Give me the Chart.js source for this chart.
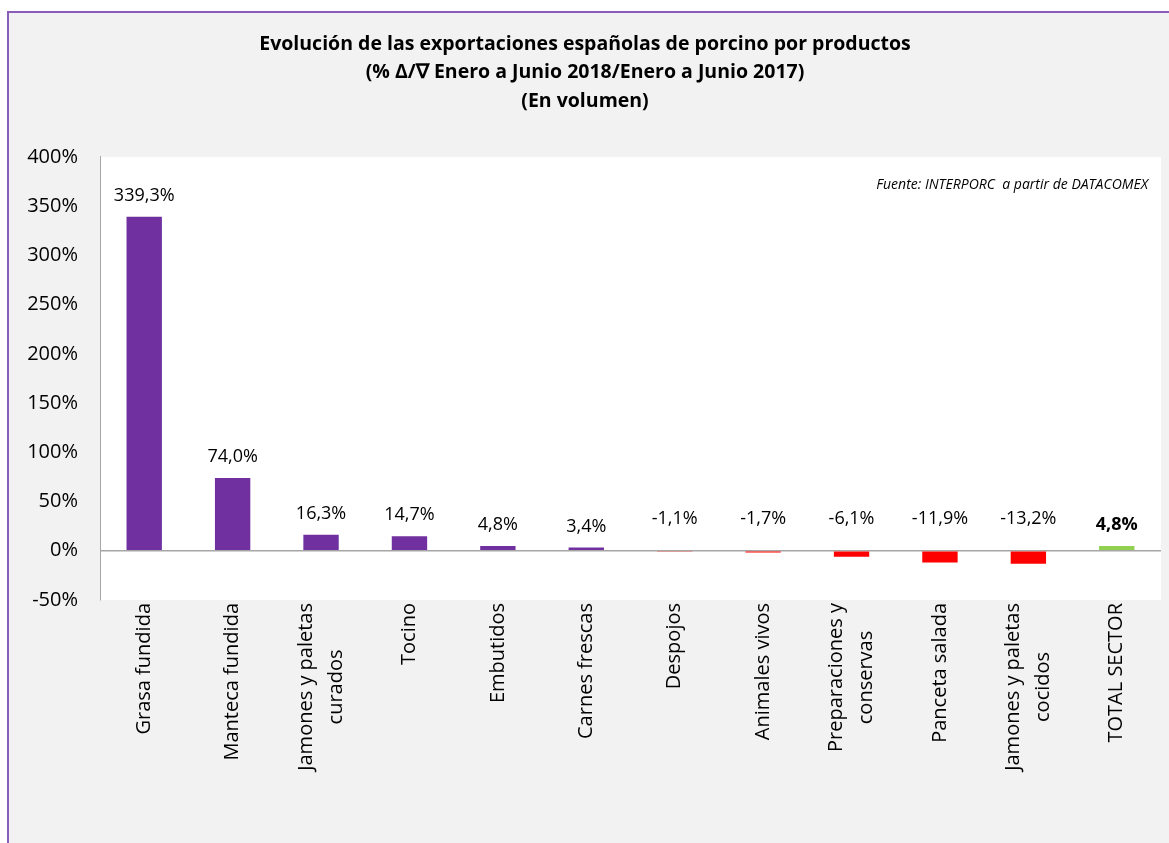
<!DOCTYPE html>
<html>
<head>
<meta charset="utf-8">
<script src="https://cdn.jsdelivr.net/npm/chart.js@4"></script>
<style>
    html, body { margin: 0; padding: 0; background: #ffffff; overflow: hidden; }
    #frame {
        position: absolute;
        left: 7px;
        top: 11px;
        width: 1170px;
        height: 830px;
        border: 2px solid #8B5DBB;
        background: #F2F2F2;
    }
    #chartBox { position: absolute; left: 0; top: 0; width: 1170px; height: 830px; }
</style>
</head>
<body>
<div id="frame">
    <div id="chartBox"><canvas id="exportChart"></canvas></div>
</div>
<script>
// categorías (las de dos líneas van como arrays)
const categories = [
    'Grasa fundida',
    'Manteca fundida',
    ['Jamones y paletas', 'curados'],
    'Tocino',
    'Embutidos',
    'Carnes frescas',
    'Despojos',
    'Animales vivos',
    ['Preparaciones y', 'conservas'],
    'Panceta salada',
    ['Jamones y paletas', 'cocidos'],
    'TOTAL SECTOR'
];

// % variación Enero-Junio 2018 / Enero-Junio 2017
const variation = [339.3, 74.0, 16.3, 14.7, 4.8, 3.4, -1.1, -1.7, -6.1, -11.9, -13.2, 4.8];

const yTicks = [-50, 0, 50, 100, 150, 200, 250, 300, 350, 400];

const titleLines = [
    'Evolución de las exportaciones españolas de porcino por productos',
    '(% \u0394/\u2207 Enero a Junio 2018/Enero a Junio 2017)',
    '(En volumen)'
];
const sourceNote = 'Fuente: INTERPORC  a partir de DATACOMEX';

const FONT = "'Open Sans', 'Noto Sans', sans-serif";

function barColor(i) {
    if (i === variation.length - 1) return '#92D050';
    return variation[i] < 0 ? '#FF0000' : '#7030A0';
}

function fmt(v) {
    return v.toFixed(1).replace('.', ',') + '%';
}

const plotBackground = {
    id: 'plotBackground',
    beforeDraw(chart) {
        const a = chart.chartArea;
        const ctx = chart.ctx;
        ctx.save();
        ctx.fillStyle = '#ffffff';
        ctx.fillRect(a.left, a.top, a.right - a.left, a.bottom - a.top);
        ctx.restore();
    }
};

// etiquetas de categoría giradas, líneas centradas entre sí
const rotatedLabels = {
    id: 'rotatedLabels',
    afterDraw(chart) {
        const ctx = chart.ctx;
        const xScale = chart.scales.x;
        const top = chart.chartArea.bottom + 3;
        const lh = 30;
        ctx.save();
        ctx.font = '20px ' + FONT;
        ctx.fillStyle = '#000000';
        ctx.textAlign = 'center';
        ctx.textBaseline = 'middle';
        categories.forEach((cat, i) => {
            const lines = Array.isArray(cat) ? cat : [cat];
            const w = Math.max(...lines.map(l => ctx.measureText(l).width));
            const x = xScale.getPixelForValue(i);
            ctx.save();
            ctx.translate(x, top);
            ctx.rotate(-Math.PI / 2);
            lines.forEach((line, k) => {
                ctx.fillText(line, -w / 2, (k - (lines.length - 1) / 2) * lh);
            });
            ctx.restore();
        });
        ctx.restore();
    }
};

const valueLabels = {
    id: 'valueLabels',
    afterDatasetsDraw(chart) {
        const ctx = chart.ctx;
        const meta = chart.getDatasetMeta(0);
        const zeroY = chart.scales.y.getPixelForValue(0);
        ctx.save();
        ctx.fillStyle = '#000000';
        ctx.textAlign = 'center';
        ctx.textBaseline = 'middle';
        meta.data.forEach((bar, i) => {
            const v = variation[i];
            const last = i === variation.length - 1;
            ctx.font = (last ? 'bold ' : '') + '18px ' + FONT;
            const y = v >= 0 ? bar.y - 21 : zeroY - 32;
            ctx.fillText(fmt(v), bar.x, y);
        });
        // nota de fuente
        const a = chart.chartArea;
        ctx.font = 'italic 14px ' + FONT;
        ctx.textAlign = 'right';
        ctx.fillText(sourceNote, a.right - 13, a.top + 28);
        ctx.restore();
    }
};

const ctx = document.getElementById('exportChart').getContext('2d');

new Chart(ctx, {
    type: 'bar',
    data: {
        labels: categories.map(c => Array.isArray(c) ? c.join(' ') : c),
        datasets: [{
            data: variation,
            backgroundColor: variation.map((v, i) => barColor(i)),
            borderWidth: 0,
            categoryPercentage: 1,
            barPercentage: 0.4
        }]
    },
    options: {
        responsive: true,
        maintainAspectRatio: false,
        animation: false,
        layout: {
            padding: { left: 0, right: 18, top: 0, bottom: 0 }
        },
        plugins: {
            legend: { display: false },
            tooltip: { enabled: false },
            title: {
                display: true,
                text: titleLines,
                color: '#000000',
                font: { family: FONT, size: 19.5, weight: 'bold', lineHeight: 1.46 },
                padding: { top: 17, bottom: 41.5 }
            }
        },
        scales: {
            x: {
                grid: { display: false },
                border: { display: false },
                ticks: { display: false },
                afterFit(scale) { scale.height = 243; }
            },
            y: {
                min: -50,
                max: 400,
                afterBuildTicks(scale) {
                    scale.ticks = yTicks.map(v => ({ value: v }));
                },
                afterFit(scale) { scale.width = 91; },
                grid: {
                    drawTicks: false,
                    color: c => c.tick && c.tick.value === 0 ? '#A6A6A6' : 'rgba(0,0,0,0)',
                    lineWidth: 1.5
                },
                border: { display: true, color: '#A6A6A6', width: 1 },
                ticks: {
                    padding: 22,
                    color: '#000000',
                    font: { family: FONT, size: 20 },
                    callback: v => v + '%'
                }
            }
        }
    },
    plugins: [plotBackground, rotatedLabels, valueLabels]
});
</script>
</body>
</html>
